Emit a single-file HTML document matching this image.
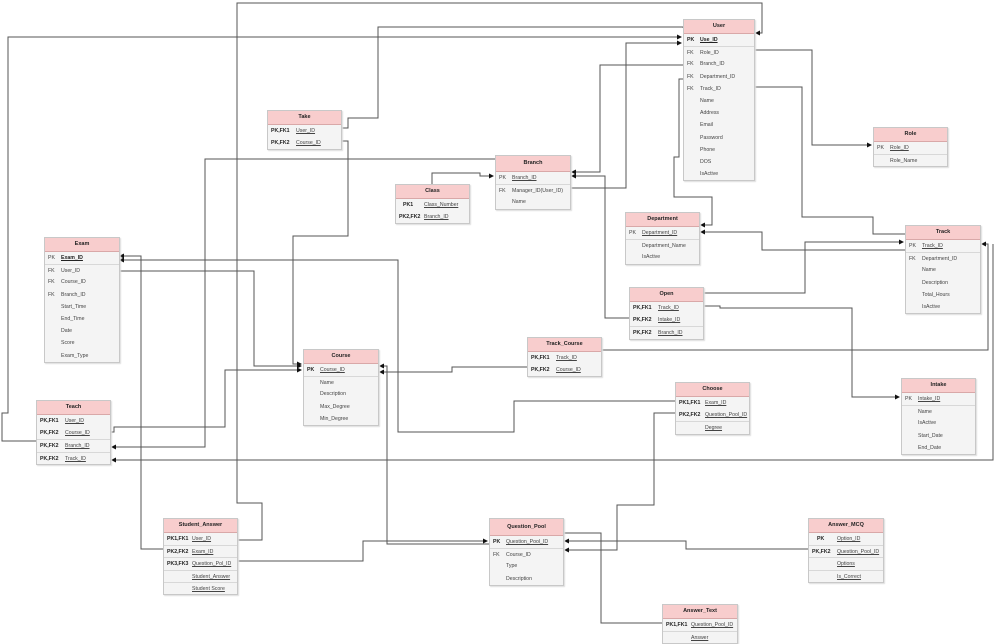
<!DOCTYPE html>
<html><head><meta charset="utf-8"><style>
body{margin:0;width:1000px;height:642px;background:#fff;position:relative;overflow:hidden;font-family:"Liberation Sans",sans-serif}
svg{position:absolute;left:0;top:0}
.t{position:absolute;background:#f4f4f4;border:1px solid #c8c8c8;box-shadow:1px 1px 1px #ddd;font-size:5.2px;color:#444}
.h{background:#f8cdcd;border-bottom:1px solid #d9a8a8;height:13px;line-height:13px;text-align:center;font-weight:bold;color:#222;font-size:5.5px}
.r{height:12.2px;line-height:12.2px;position:relative;white-space:nowrap}
.r b{position:absolute;left:3px;font-weight:bold;color:#222}
.r span{position:absolute}
.s{border-top:1px solid #d8d8d8;height:11.2px}
u{text-decoration:underline}
</style></head><body>
<svg width="1000" height="642" viewBox="0 0 1000 642">
<defs><marker id="a" markerWidth="5" markerHeight="5" refX="4" refY="2.5" orient="auto"><path d="M0,0 L5,2.5 L0,5z" fill="#111"/></marker></defs>
<g fill="none" stroke="#555" stroke-width="1">
<polyline points="237,540 262,540 262,503 237,503 237,3 762,3 762,33 756,33" marker-end="url(#a)"/>
<polyline points="36,441 2,441 2,413 8,413 8,37 681,37" marker-end="url(#a)"/>
<polyline points="341,128 348,128 348,118 378,118 378,27 685,27 685,31" marker-end="url(#a)"/>
<polyline points="341,141 348,141 348,236 293,236 293,364 301,364" marker-end="url(#a)"/>
<polyline points="495,159 205,159 205,447 112,447" marker-end="url(#a)"/>
<polyline points="432,184 432,173 480,173 480,176 493,176" marker-end="url(#a)"/>
<polyline points="570,188 626,188 626,43 681,43" marker-end="url(#a)"/>
<polyline points="683,65 600,65 600,172 572,172" marker-end="url(#a)"/>
<polyline points="629,318 605,318 605,176 572,176" marker-end="url(#a)"/>
<polyline points="683,79 679,79 679,157 674,157 674,197 712,197 712,225 701,225" marker-end="url(#a)"/>
<polyline points="905,250 762,250 762,232 701,232" marker-end="url(#a)"/>
<polyline points="754,50 812,50 812,145 871,145" marker-end="url(#a)"/>
<polyline points="754,87 802,87 802,217 873,217 873,234 905,234"/>
<polyline points="703,293 805,293 805,242 903,242" marker-end="url(#a)"/>
<polyline points="703,306 720,306 720,308 852,308 852,397 899,397" marker-end="url(#a)"/>
<polyline points="601,350 988,350 988,244 982,244" marker-end="url(#a)"/>
<polyline points="993,244 993,460 112,460" marker-end="url(#a)"/>
<polyline points="163,549 141,549 141,256 120,256" marker-end="url(#a)"/>
<polyline points="675,401 514,401 514,432 398,432 398,260 120,260" marker-end="url(#a)"/>
<polyline points="118,271 254,271 254,366 301,366" marker-end="url(#a)"/>
<polyline points="110,432 114,432 114,427 225,427 225,370 301,370" marker-end="url(#a)"/>
<polyline points="527,367 452,367 452,372 380,372" marker-end="url(#a)"/>
<polyline points="489,544 387,544 387,366 380,366" marker-end="url(#a)"/>
<polyline points="237,561 363,561 363,541 487,541" marker-end="url(#a)"/>
<polyline points="675,413 654,413 654,505 617,505 617,550 565,550" marker-end="url(#a)"/>
<polyline points="808,549 686,549 686,541 565,541" marker-end="url(#a)"/>
<polyline points="662,623 601,623 601,533 563,533"/>
</g></svg>

<div class="t" style="left:683px;top:19px;width:70px"><div class="h">User</div>
<div class="r"><b>PK</b><span style="left:16px"><b style="position:static"><u>Use_ID</u></b></span></div>
<div class="r s"><span style="left:3px">FK</span><span style="left:16px">Role_ID</span></div>
<div class="r"><span style="left:3px">FK</span><span style="left:16px">Branch_ID</span></div>
<div class="r"><span style="left:3px">FK</span><span style="left:16px">Department_ID</span></div>
<div class="r"><span style="left:3px">FK</span><span style="left:16px">Track_ID</span></div>
<div class="r"><span style="left:16px">Name</span></div><div class="r"><span style="left:16px">Address</span></div>
<div class="r"><span style="left:16px">Email</span></div><div class="r"><span style="left:16px">Password</span></div>
<div class="r"><span style="left:16px">Phone</span></div><div class="r"><span style="left:16px">DOS</span></div>
<div class="r"><span style="left:16px">IsActive</span></div></div>

<div class="t" style="left:873px;top:127px;width:73px"><div class="h">Role</div>
<div class="r"><span style="left:3px">PK</span><span style="left:16px"><u>Role_ID</u></span></div>
<div class="r s"><span style="left:16px">Role_Name</span></div></div>

<div class="t" style="left:267px;top:110px;width:73px"><div class="h">Take</div>
<div class="r"><b>PK,FK1</b><span style="left:28px"><u>User_ID</u></span></div>
<div class="r"><b>PK,FK2</b><span style="left:28px"><u>Course_ID</u></span></div></div>

<div class="t" style="left:495px;top:155px;width:74px"><div class="h" style="height:15px;line-height:15px">Branch</div>
<div class="r"><span style="left:3px">PK</span><span style="left:16px"><u>Branch_ID</u></span></div>
<div class="r s"><span style="left:3px">FK</span><span style="left:16px">Manager_ID(User_ID)</span></div>
<div class="r"><span style="left:16px">Name</span></div></div>

<div class="t" style="left:395px;top:184px;width:73px"><div class="h">Class</div>
<div class="r"><b style="left:7px">PK1</b><span style="left:28px"><u>Class_Number</u></span></div>
<div class="r"><b>PK2,FK2</b><span style="left:28px"><u>Branch_ID</u></span></div></div>

<div class="t" style="left:625px;top:212px;width:73px"><div class="h">Department</div>
<div class="r"><span style="left:3px">PK</span><span style="left:16px"><u>Department_ID</u></span></div>
<div class="r s"><span style="left:16px">Department_Name</span></div>
<div class="r"><span style="left:16px">IsActive</span></div></div>

<div class="t" style="left:905px;top:225px;width:74px"><div class="h">Track</div>
<div class="r"><span style="left:3px">PK</span><span style="left:16px"><u>Track_ID</u></span></div>
<div class="r s"><span style="left:3px">FK</span><span style="left:16px">Department_ID</span></div>
<div class="r"><span style="left:16px">Name</span></div><div class="r"><span style="left:16px">Description</span></div>
<div class="r"><span style="left:16px">Total_Hours</span></div><div class="r"><span style="left:16px">IsActive</span></div></div>

<div class="t" style="left:44px;top:237px;width:74px"><div class="h">Exam</div>
<div class="r"><span style="left:3px">PK</span><span style="left:16px"><b style="position:static"><u>Exam_ID</u></b></span></div>
<div class="r s"><span style="left:3px">FK</span><span style="left:16px">User_ID</span></div>
<div class="r"><span style="left:3px">FK</span><span style="left:16px">Course_ID</span></div>
<div class="r"><span style="left:3px">FK</span><span style="left:16px">Branch_ID</span></div>
<div class="r"><span style="left:16px">Start_Time</span></div><div class="r"><span style="left:16px">End_Time</span></div>
<div class="r"><span style="left:16px">Date</span></div><div class="r"><span style="left:16px">Score</span></div>
<div class="r"><span style="left:16px">Exam_Type</span></div></div>

<div class="t" style="left:629px;top:287px;width:73px"><div class="h">Open</div>
<div class="r"><b>PK,FK1</b><span style="left:28px"><u>Track_ID</u></span></div>
<div class="r"><b>PK,FK2</b><span style="left:28px"><u>Intake_ID</u></span></div>
<div class="r s"><b>PK,FK2</b><span style="left:28px"><u>Branch_ID</u></span></div></div>

<div class="t" style="left:527px;top:337px;width:73px"><div class="h">Track_Course</div>
<div class="r"><b>PK,FK1</b><span style="left:28px"><u>Track_ID</u></span></div>
<div class="r"><b>PK,FK2</b><span style="left:28px"><u>Course_ID</u></span></div></div>

<div class="t" style="left:303px;top:349px;width:74px"><div class="h">Course</div>
<div class="r"><b>PK</b><span style="left:16px"><u>Course_ID</u></span></div>
<div class="r s"><span style="left:16px">Name</span></div><div class="r"><span style="left:16px">Description</span></div>
<div class="r"><span style="left:16px">Max_Degree</span></div><div class="r"><span style="left:16px">Min_Degree</span></div></div>

<div class="t" style="left:675px;top:382px;width:73px"><div class="h">Choose</div>
<div class="r"><b>PK1,FK1</b><span style="left:29px"><u>Exam_ID</u></span></div>
<div class="r"><b>PK2,FK2</b><span style="left:29px"><u>Question_Pool_ID</u></span></div>
<div class="r s"><span style="left:29px"><u>Degree</u></span></div></div>

<div class="t" style="left:901px;top:378px;width:73px"><div class="h">Intake</div>
<div class="r"><span style="left:3px">PK</span><span style="left:16px"><u>Intake_ID</u></span></div>
<div class="r s"><span style="left:16px">Name</span></div><div class="r"><span style="left:16px">IsActive</span></div>
<div class="r"><span style="left:16px">Start_Date</span></div><div class="r"><span style="left:16px">End_Date</span></div></div>

<div class="t" style="left:36px;top:400px;width:73px"><div class="h">Teach</div>
<div class="r"><b>PK,FK1</b><span style="left:28px"><u>User_ID</u></span></div>
<div class="r"><b>PK,FK2</b><span style="left:28px"><u>Course_ID</u></span></div>
<div class="r s"><b>PK,FK2</b><span style="left:28px"><u>Branch_ID</u></span></div>
<div class="r s"><b>PK,FK2</b><span style="left:28px"><u>Track_ID</u></span></div></div>

<div class="t" style="left:163px;top:518px;width:73px"><div class="h">Student_Answer</div>
<div class="r"><b>PK1,FK1</b><span style="left:28px"><u>User_ID</u></span></div>
<div class="r s"><b>PK2,FK2</b><span style="left:28px"><u>Exam_ID</u></span></div>
<div class="r s"><b>PK3,FK3</b><span style="left:28px"><u>Question_Pol_ID</u></span></div>
<div class="r s"><span style="left:28px"><u>Student_Answer</u></span></div>
<div class="r s"><span style="left:28px"><u>Student Score</u></span></div></div>

<div class="t" style="left:489px;top:518px;width:73px"><div class="h" style="height:16px;line-height:16px">Question_Pool</div>
<div class="r"><b>PK</b><span style="left:16px"><u>Question_Pool_ID</u></span></div>
<div class="r s"><span style="left:3px">FK</span><span style="left:16px">Course_ID</span></div>
<div class="r"><span style="left:16px">Type</span></div><div class="r"><span style="left:16px">Description</span></div></div>

<div class="t" style="left:808px;top:518px;width:74px"><div class="h">Answer_MCQ</div>
<div class="r"><b style="left:8px">PK</b><span style="left:28px"><u>Option_ID</u></span></div>
<div class="r s"><b>PK,FK2</b><span style="left:28px"><u>Question_Pool_ID</u></span></div>
<div class="r s"><span style="left:28px"><u>Options</u></span></div>
<div class="r s"><span style="left:28px"><u>Is_Correct</u></span></div></div>

<div class="t" style="left:662px;top:604px;width:74px"><div class="h">Answer_Text</div>
<div class="r"><b>PK1,FK1</b><span style="left:28px"><u>Question_Pool_ID</u></span></div>
<div class="r s"><span style="left:28px"><u>Answer</u></span></div></div>
</body></html>
